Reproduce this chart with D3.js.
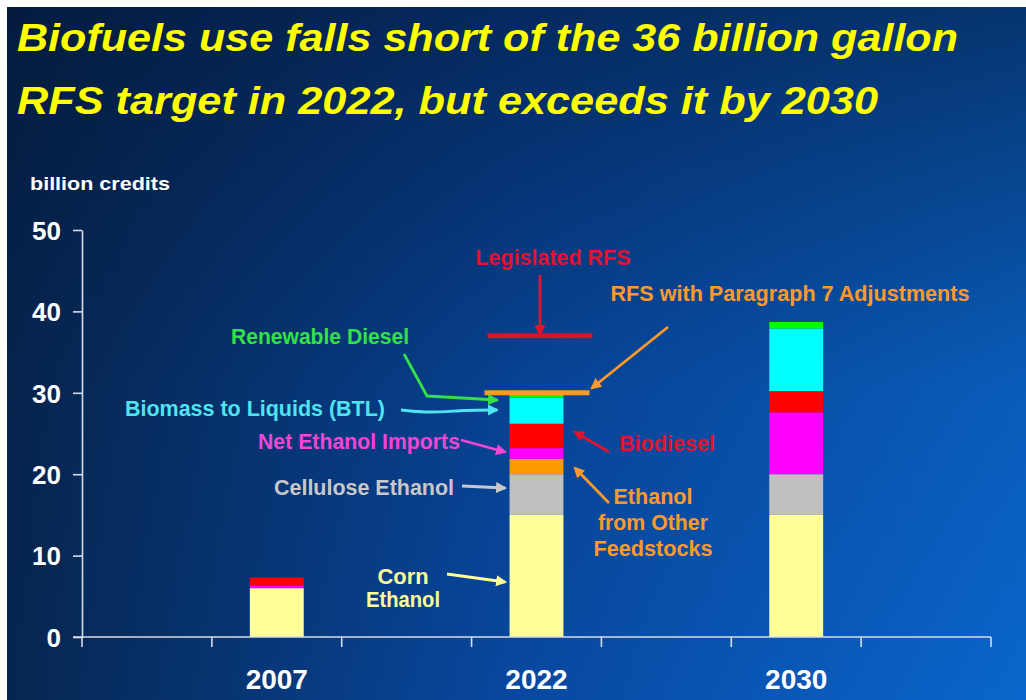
<!DOCTYPE html>
<html>
<head>
<meta charset="utf-8">
<script src="https://cdn.jsdelivr.net/npm/d3@7"></script>
<style>
  html, body { margin: 0; padding: 0; background: #ffffff; }
  svg { display: block; }
  text { font-family: "Liberation Sans", Arial, Helvetica, sans-serif; font-weight: bold; }
</style>
</head>
<body>
<svg id="chart" width="1026" height="700"></svg>
<script>
// ---- data (billion credits) ----
const years = ["2007", "2022", "2030"];
const seriesNames = [
  "Corn Ethanol", "Cellulose Ethanol", "Ethanol from Other Feedstocks",
  "Net Ethanol Imports", "Biodiesel", "Biomass to Liquids (BTL)", "Renewable Diesel"
];
const cornEthanol           = [6.0, 15.0, 15.0];
const celluloseEthanol      = [0.0, 5.0, 5.0];
const otherFeedstockEthanol = [0.0, 1.9, 0.0];
const netEthanolImports     = [0.35, 1.3, 7.6];
const biodiesel             = [0.95, 3.0, 2.6];
const biomassToLiquids      = [0.0, 3.2, 7.7];
const renewableDiesel       = [0.0, 0.4, 0.8];
const seriesColors = ["#ffff99", "#c0c0c0", "#ff9900", "#ff00ff", "#ff0000", "#00ffff", "#00ff00"];
const yTicks = [0, 10, 20, 30, 40, 50];
const legislatedRFS2022 = 37;
const adjustedRFS2022 = 30;

// category slots along the x axis (years sit in every other slot)
const xSlots = ["s0", "2007", "s2", "2022", "s4", "2030", "s6"];

const svg = d3.select("#chart");
const W = 1026, H = 700;

// ---- background ----
const defs = svg.append("defs");
const bgH = defs.append("linearGradient").attr("id", "bgH")
  .attr("x1", 0).attr("y1", 0).attr("x2", 1).attr("y2", 0);
bgH.append("stop").attr("offset", 0).attr("stop-color", "#062650");
bgH.append("stop").attr("offset", 0.5).attr("stop-color", "#0848a0");
bgH.append("stop").attr("offset", 1).attr("stop-color", "#0a66cc");
const bgV = defs.append("linearGradient").attr("id", "bgV")
  .attr("x1", 0).attr("y1", 0).attr("x2", 0).attr("y2", 1);
bgV.append("stop").attr("offset", 0).attr("stop-color", "#031432").attr("stop-opacity", 0.6);
bgV.append("stop").attr("offset", 0.55).attr("stop-color", "#031432").attr("stop-opacity", 0.12);
bgV.append("stop").attr("offset", 1).attr("stop-color", "#031432").attr("stop-opacity", 0);

svg.append("rect").attr("x", 7).attr("y", 7).attr("width", W - 7).attr("height", H - 7).attr("fill", "url(#bgH)");
svg.append("rect").attr("x", 7).attr("y", 7).attr("width", W - 7).attr("height", H - 7).attr("fill", "url(#bgV)");

// ---- title ----
const titleLines = [
  { text: "Biofuels use falls short of the 36 billion gallon", y: 51, len: 941 },
  { text: "RFS target in 2022, but exceeds it by 2030", y: 114, len: 861 }
];
svg.selectAll("text.title").data(titleLines).join("text")
  .attr("class", "title")
  .attr("x", 17).attr("y", d => d.y)
  .attr("textLength", d => d.len).attr("lengthAdjust", "spacingAndGlyphs")
  .style("font-size", "38px").style("font-style", "italic")
  .attr("fill", "#ffff00")
  .text(d => d.text);

svg.append("text").attr("x", 30).attr("y", 190)
  .attr("textLength", 140).attr("lengthAdjust", "spacingAndGlyphs")
  .style("font-size", "19px").attr("fill", "#ffffff").text("billion credits");

// ---- scales ----
const x = d3.scaleBand().domain(xSlots).range([82, 991]).paddingInner(0).paddingOuter(0);
const y = d3.scaleLinear().domain([0, 50]).range([637, 230]);
const barW = x.bandwidth() * 0.415;

// ---- stacked bars ----
const rows = years.map((yr, i) => ({
  year: yr,
  "Corn Ethanol": cornEthanol[i],
  "Cellulose Ethanol": celluloseEthanol[i],
  "Ethanol from Other Feedstocks": otherFeedstockEthanol[i],
  "Net Ethanol Imports": netEthanolImports[i],
  "Biodiesel": biodiesel[i],
  "Biomass to Liquids (BTL)": biomassToLiquids[i],
  "Renewable Diesel": renewableDiesel[i]
}));
const stacked = d3.stack().keys(seriesNames)(rows);
const color = d3.scaleOrdinal().domain(seriesNames).range(seriesColors);

svg.append("g").selectAll("g").data(stacked).join("g")
  .attr("fill", d => color(d.key))
  .selectAll("rect").data(d => d).join("rect")
  .attr("x", d => x(d.data.year) + (x.bandwidth() - barW) / 2)
  .attr("width", barW)
  .attr("y", d => y(d[1]))
  .attr("height", d => y(d[0]) - y(d[1]));

// ---- axes ----
const axisColor = "#d6dde8";
const yAxis = svg.append("g").attr("transform", `translate(${x.range()[0]},0)`)
  .call(d3.axisLeft(y).tickValues(yTicks).tickSize(9).tickSizeOuter(0).tickPadding(12));
yAxis.select(".domain").attr("stroke", axisColor).attr("stroke-width", 1.6);
yAxis.selectAll(".tick line").attr("stroke", axisColor).attr("stroke-width", 1.6);
yAxis.selectAll(".tick text").attr("fill", "#ffffff")
  .style("font-size", "26px").style("font-family", "'Liberation Sans Narrow', 'Liberation Sans', Arial, sans-serif")
  .attr("dy", "0.36em");

// x axis line with ticks on slot boundaries
const xBase = svg.append("g").attr("transform", `translate(0,${y(0)})`);
xBase.append("line").attr("x1", x.range()[0] - 9).attr("x2", x.range()[1])
  .attr("stroke", axisColor).attr("stroke-width", 1.6);
const boundaries = xSlots.map(s => x(s)).concat([x.range()[1]]);
xBase.selectAll("line.tk").data(boundaries).join("line").attr("class", "tk")
  .attr("x1", d => d).attr("x2", d => d).attr("y1", 0).attr("y2", 10)
  .attr("stroke", axisColor).attr("stroke-width", 1.6);
xBase.selectAll("text").data(years).join("text")
  .attr("x", d => x(d) + x.bandwidth() / 2).attr("y", 52)
  .attr("text-anchor", "middle").attr("fill", "#ffffff")
  .style("font-size", "28px").style("font-family", "'Liberation Sans Narrow', 'Liberation Sans', Arial, sans-serif")
  .text(d => d);

// ---- RFS target lines for 2022 ----
const c22 = x("2022") + x.bandwidth() / 2;
svg.append("line").attr("x1", c22 - 49).attr("x2", c22 + 56)
  .attr("y1", y(legislatedRFS2022)).attr("y2", y(legislatedRFS2022))
  .attr("stroke", "#d8142a").attr("stroke-width", 5);
svg.append("line").attr("x1", c22 - 52).attr("x2", c22 + 53)
  .attr("y1", y(adjustedRFS2022)).attr("y2", y(adjustedRFS2022))
  .attr("stroke", "#ff9a1a").attr("stroke-width", 5);

// ---- annotations ----
function marker(id, fill) {
  defs.append("marker").attr("id", id)
    .attr("viewBox", "0 0 10 10").attr("refX", 8).attr("refY", 5)
    .attr("markerWidth", 4).attr("markerHeight", 4).attr("orient", "auto")
    .append("path").attr("d", "M0,0 L10,5 L0,10 Z").attr("fill", fill);
}

const notes = [
  { lines: ["Legislated RFS"], x: 553, y: 265, len: 155, color: "#e0142e", size: 22,
    path: [[540, 275], [540, 334]] },
  { lines: ["RFS with Paragraph 7 Adjustments"], x: 790, y: 301, len: 359, color: "#ff9a2a", size: 22,
    path: [[668, 327], [592, 388]] },
  { lines: ["Renewable Diesel"], x: 320, y: 344, len: 178, color: "#33e04a", size: 22,
    path: [[404, 354], [427, 396], [497, 400]] },
  { lines: ["Biomass to Liquids (BTL)"], x: 255, y: 416, len: 260, color: "#50e4f2", size: 22,
    path: [[401, 410], [430, 413], [465, 410], [497, 410]], curve: true },
  { lines: ["Net Ethanol Imports"], x: 359, y: 449, len: 202, color: "#f046d4", size: 22,
    path: [[461, 440], [505, 452]] },
  { lines: ["Cellulose Ethanol"], x: 364, y: 495, len: 180, color: "#c8c8cc", size: 22,
    path: [[462, 486], [505, 488]] },
  { lines: ["Biodiesel"], x: 667, y: 451, len: 96, color: "#e0142e", size: 22,
    path: [[609, 452], [575, 432]] },
  { lines: ["Ethanol", "from Other", "Feedstocks"], x: 653, y: 504, len: [79, 110, 119], color: "#ff9a2a", size: 22,
    path: [[609, 503], [575, 468]] },
  { lines: ["Corn", "Ethanol"], x: 403, y: 584, len: [51, 74], color: "#ffff9a", size: 22,
    path: [[447, 574], [505, 582]] }
];

notes.forEach((n, i) => {
  const mid = "arrow" + i;
  marker(mid, n.color);
  const lineGen = n.curve ? d3.line().curve(d3.curveBasis) : d3.line();
  svg.append("path").attr("d", lineGen(n.path))
    .attr("fill", "none").attr("stroke", n.color).attr("stroke-width", 2.8)
    .attr("stroke-linejoin", "round")
    .attr("marker-end", `url(#${mid})`);
  n.lines.forEach((t, j) => {
    const len = Array.isArray(n.len) ? n.len[j] : n.len;
    svg.append("text").attr("x", n.x).attr("y", n.y + j * 23 + (n.lines.length === 3 ? j * 3 : 0))
      .attr("text-anchor", "middle").attr("fill", n.color)
      .attr("textLength", len).attr("lengthAdjust", "spacingAndGlyphs")
      .style("font-size", n.size + "px")
      .text(t);
  });
});
</script>
</body>
</html>
